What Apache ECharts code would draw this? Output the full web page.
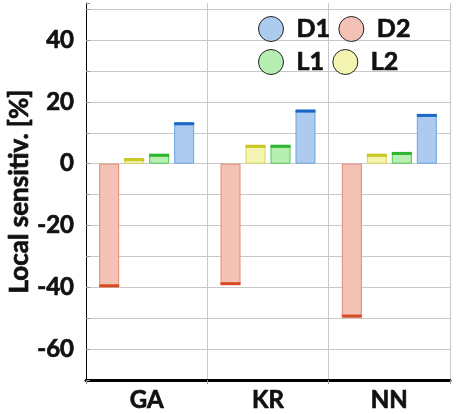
<!DOCTYPE html>
<html style="height: 100%">
<head>
    <meta charset="utf-8">
    <title>Local sensitivity</title>
</head>
<body style="height: 100%; margin: 0">
    <div id="container" style="width: 459px; height: 414px"></div>
    <script src="https://cdn.jsdelivr.net/npm/echarts@6/dist/echarts.min.js"></script>
    <script type="text/javascript">
        // 数据
        var categories = ['GA', 'KR', 'NN'];
        var seriesNames = ['D2', 'L2', 'L1', 'D1'];
        var valuesD2 = [-40, -39.3, -49.8];
        var valuesL2 = [1.8, 6.1, 3.2];
        var valuesL1 = [3.2, 6.1, 3.8];
        var valuesD1 = [13.4, 17.5, 16.1];
        var allValues = [valuesD2, valuesL2, valuesL1, valuesD1];

        var fills = ['#f4c1b5', '#f4f4b2', '#b7eeb1', '#adcbef'];
        var borders = ['#e58a74', '#d8d85a', '#55c855', '#6aa3e0'];
        var ends = ['#d84a22', '#c8c820', '#2eb52e', '#1a68c8'];
        var offsets = [-37.5, -12.5, 12.5, 37.5];

        var font = 'Lato';
        // 文字加粗一点
        var heavy = { fontFamily: font, fontWeight: 'bold', color: '#111', textBorderColor: '#111', textBorderWidth: 0.7 };

        var dom = document.getElementById('container');
        var myChart = echarts.init(dom);

        var series = [];
        seriesNames.forEach(function (name, i) {
            series.push({
                name: name,
                type: 'bar',
                data: allValues[i],
                barWidth: 20,
                barGap: '25%',
                itemStyle: {
                    color: fills[i],
                    borderColor: borders[i],
                    borderWidth: 1
                }
            });
        });
        // 柱子末端的深色线
        seriesNames.forEach(function (name, i) {
            series.push({
                name: name + '_end',
                type: 'pictorialBar',
                data: allValues[i],
                symbol: 'rect',
                symbolSize: [20, 3],
                symbolPosition: 'end',
                symbolOffset: [offsets[i], 0],
                itemStyle: { color: ends[i] },
                z: 5,
                silent: true
            });
        });

        var legendCommon = {
            icon: 'circle',
            itemWidth: 25,
            itemHeight: 25,
            itemGap: 8,
            itemStyle: { borderColor: '#222', borderWidth: 1 },
            textStyle: Object.assign({ fontSize: 25, padding: [4, 0, 0, 8] }, heavy)
        };

        var option = {
            animation: false,
            legend: [
                Object.assign({ data: ['D1', 'D2'], left: 253, top: 11 }, legendCommon),
                Object.assign({ data: ['L1', 'L2'], left: 253, top: 44 }, legendCommon)
            ],
            grid: { left: 86, right: 9, top: 3, bottom: 34, outerBoundsMode: 'none', containLabel: false },
            xAxis: {
                type: 'category',
                data: categories,
                axisLine: { onZero: false, lineStyle: { color: '#000', width: 3 } },
                axisTick: { show: true, length: 4, lineStyle: { color: '#999' } },
                splitLine: { show: true, lineStyle: { color: '#c8c8c8', width: 1 } },
                axisLabel: Object.assign({ fontSize: 24, margin: 8 }, heavy)
            },
            yAxis: {
                type: 'value',
                min: -70,
                max: 52,
                interval: 10,
                name: 'Local sensitiv. [%]',
                nameLocation: 'middle',
                nameGap: 53,
                nameMoveOverlap: false,
                nameTextStyle: Object.assign({ fontSize: 26 }, heavy),
                axisLine: { show: true, lineStyle: { color: '#000', width: 1 } },
                axisTick: { show: true, inside: true, length: 4, lineStyle: { color: '#999' } },
                splitLine: { show: true, showMaxLine: false, lineStyle: { color: '#c8c8c8', width: 1 } },
                axisLabel: Object.assign({
                    fontSize: 24,
                    margin: 12,
                    formatter: function (v) {
                        return v % 20 === 0 ? String(v) : '';
                    }
                }, heavy)
            },
            series: series
        };
        myChart.setOption(option);
    </script>
</body>
</html>
